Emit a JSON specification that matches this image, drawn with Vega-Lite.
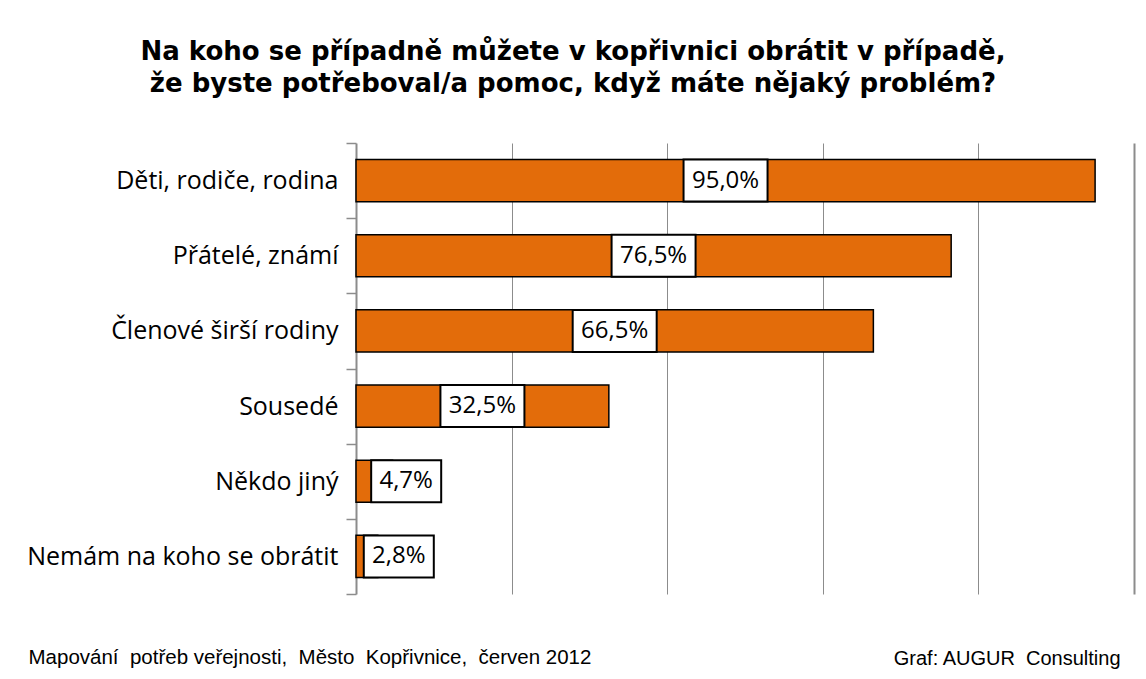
{
  "$schema": "https://vega.github.io/schema/vega-lite/v6.json",
  "width": 778,
  "height": 451,
  "autosize": {"type": "none"},
  "padding": {"left": 356, "top": 143, "right": 12, "bottom": 85},
  "background": "white",
  "title": {
    "text": ["Na koho se případně můžete v kopřivnici obrátit v případě,", "že byste potřeboval/a pomoc, když máte nějaký problém?"],
    "anchor": "middle",
    "frame": "group",
    "dx": -172,
    "offset": 34,
    "font": "DejaVu Sans",
    "fontSize": 26,
    "fontWeight": "bold",
    "lineHeight": 32,
    "color": "black"
  },
  "data": {
    "values": [
      {"cat": "Děti, rodiče, rodina", "value": 95.0},
      {"cat": "Přátelé, známí", "value": 76.5},
      {"cat": "Členové širší rodiny", "value": 66.5},
      {"cat": "Sousedé", "value": 32.5},
      {"cat": "Někdo jiný", "value": 4.7},
      {"cat": "Nemám na koho se obrátit", "value": 2.8}
    ]
  },
  "transform": [
    {"calculate": "datum.value < 10 ? datum.value / 2 + 4.1 : datum.value / 2", "as": "pos"},
    {"calculate": "replace(format(datum.value, '.1f'), '.', ',') + '%'", "as": "label"}
  ],
  "encoding": {
    "y": {
      "field": "cat",
      "type": "nominal",
      "sort": null,
      "scale": {"paddingInner": 0, "paddingOuter": 0},
      "axis": {
        "title": "Graf: AUGUR\u00a0\u00a0Consulting",
        "titleAngle": 0,
        "titleAlign": "right",
        "titleBaseline": "alphabetic",
        "titleX": 764,
        "titleY": 521,
        "titleFont": "Liberation Sans",
        "titleFontSize": 20,
        "titleFontWeight": "normal",
        "titleColor": "black",
        "tickBand": "extent",
        "tickSize": 10,
        "tickColor": "#8c8c8c",
        "tickWidth": 1.5,
        "domainColor": "#8c8c8c",
        "domainWidth": 2,
        "labelFont": "Open Sans",
        "labelFontSize": 25,
        "labelColor": "black",
        "labelPadding": 8,
        "labelLimit": 400
      }
    }
  },
  "layer": [
    {
      "mark": {"type": "bar", "color": "#E36C0A", "stroke": "black", "strokeWidth": 1.5, "height": {"band": 0.56}},
      "encoding": {
        "x": {
          "field": "value",
          "type": "quantitative",
          "scale": {"domain": [0, 100], "nice": false},
          "axis": {
            "values": [20, 40, 60, 80, 100],
            "grid": true,
            "gridColor": "#8c8c8c",
            "gridWidth": {"condition": {"test": "datum.value === 100", "value": 2}, "value": 1},
            "labels": false,
            "ticks": false,
            "domain": false,
            "title": "Mapování\u00a0\u00a0potřeb veřejnosti,\u00a0\u00a0Město\u00a0\u00a0Kopřivnice,\u00a0\u00a0červen 2012",
            "titleX": -328,
            "titleY": 69,
            "titleAlign": "left",
            "titleAnchor": "start",
            "titleBaseline": "alphabetic",
            "titleFont": "Liberation Sans",
            "titleFontSize": 20.5,
            "titleFontWeight": "normal",
            "titleColor": "black"
          }
        }
      }
    },
    {
      "transform": [{"filter": "datum.value >= 10"}],
      "mark": {"type": "point", "shape": "M-2,-1H2V1H-2Z", "size": 1764, "filled": true, "fill": "white", "stroke": "black", "strokeWidth": 2, "opacity": 1},
      "encoding": {"x": {"field": "pos", "type": "quantitative"}}
    },
    {
      "transform": [{"filter": "datum.value < 10"}],
      "mark": {"type": "point", "shape": "M-1.667,-1H1.667V1H-1.667Z", "size": 1764, "filled": true, "fill": "white", "stroke": "black", "strokeWidth": 2, "opacity": 1},
      "encoding": {"x": {"field": "pos", "type": "quantitative"}}
    },
    {
      "mark": {"type": "text", "align": "center", "baseline": "middle", "font": "Open Sans", "fontSize": 24, "color": "black"},
      "encoding": {
        "x": {"field": "pos", "type": "quantitative"},
        "text": {"field": "label"}
      }
    }
  ],
  "config": {"view": {"stroke": null}}
}
